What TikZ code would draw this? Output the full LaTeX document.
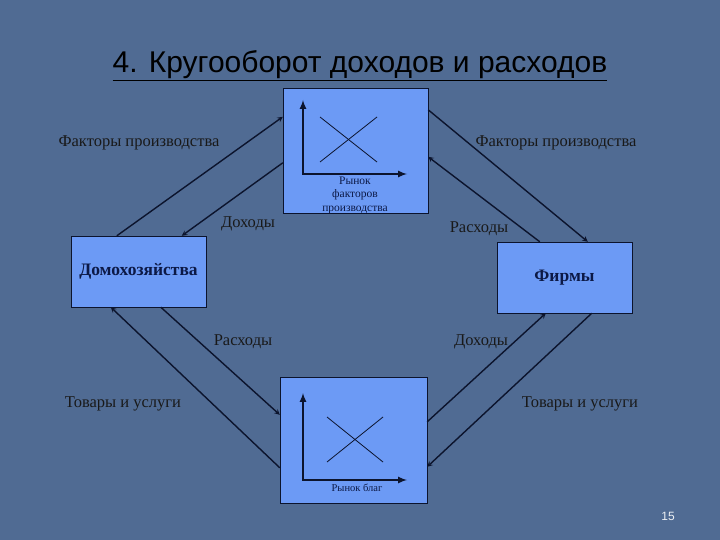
\documentclass[tikz,border=0pt]{standalone}
\usepackage{fontspec}
\setmainfont{Liberation Serif}
\newfontfamily\titlefont{Liberation Sans}
\usepackage{tikz}
\usetikzlibrary{arrows,positioning}
\usepackage{xcolor}
\definecolor{slidebg}{RGB}{80,107,147}
\definecolor{boxblue}{RGB}{108,154,245}
\definecolor{linenavy}{RGB}{12,20,45}
\definecolor{textnavy}{RGB}{12,25,70}
\tikzstyle{flow} = [line width=1.4pt,->,>=stealth,color=linenavy]
\tikzstyle{axis} = [line width=2pt,<->,>=latex,color=linenavy]
\tikzstyle{curve} = [line width=0.8pt,color=linenavy]
\tikzstyle{agent} = [rectangle, draw=linenavy, fill=boxblue, minimum width=135pt, minimum height=71pt, inner sep=0pt, font=\bfseries\fontsize{17.5}{20}\selectfont, text=textnavy]
\tikzstyle{market} = [rectangle, draw=linenavy, fill=boxblue, inner sep=0pt]
\tikzstyle{lbl} = [font=\fontsize{16.5}{19}\selectfont, text=black!90]

\begin{document}
\begin{tikzpicture}[x=1pt, y=-1pt]
    \fill[slidebg] (0,0) rectangle (720,540);
    \useasboundingbox (0,0) rectangle (720,540);

    % Title
    \node[anchor=base, font=\titlefont\fontsize{30}{34}\selectfont] (title) at (360,73) {\underline{4. Кругооборот доходов и расходов}};

    % Market for factors
    \node[market, minimum width=145pt, minimum height=125pt] (fmarket) at (355.5,150.5) {};
    \coordinate (fo) at (303,174);
    \coordinate (fy) at (303,100);
    \coordinate (fx) at (407,174);
    \draw[axis] (fy) -- (fo) -- (fx);
    \draw[curve] (320,117) -- (377,162);
    \draw[curve] (320,162) -- (377,117);
    \node[font=\fontsize{11.5}{13.5}\selectfont, align=center, text=textnavy] (flabel) at (355,195) {Рынок\\факторов\\производства};

    % Market for goods
    \node[market, minimum width=147pt, minimum height=126pt] (gmarket) at (353.5,440) {};
    \coordinate (go) at (303,480);
    \coordinate (gy) at (303,393);
    \coordinate (gx) at (407,480);
    \draw[axis] (gy) -- (go) -- (gx);
    \draw[curve] (327,417) -- (383,462);
    \draw[curve] (327,462) -- (383,417);
    \node[font=\fontsize{10.5}{12}\selectfont, text=textnavy] (glabel) at (357,488) {Рынок благ};

    % Households and firms
    \node[agent] (house) at (138.5,271.5) {Домохозяйства};
    \node[agent] (firm) at (564.5,277.5) {Фирмы};

    % Flows through the market for factors
    \draw[flow] ([xshift=46pt]house.north west) -- ([yshift=-29pt]fmarket.north west);
    \draw[flow] ([yshift=-75pt]fmarket.north west) -- ([xshift=111pt]house.north west);
    \draw[flow] ([yshift=-22pt]fmarket.north east) -- ([xshift=91pt]firm.north west);
    \draw[flow] ([xshift=43pt]firm.north west) -- ([yshift=-69pt]fmarket.north east);

    % Flows through the market for goods
    \draw[flow] ([xshift=90pt]house.south west) -- ([yshift=-38pt]gmarket.north west);
    \draw[flow] ([yshift=-91pt]gmarket.north west) -- ([xshift=40pt]house.south west);
    \draw[flow] ([yshift=-45pt]gmarket.north east) -- ([xshift=49pt]firm.south west);
    \draw[flow] ([xshift=95pt]firm.south west) -- ([yshift=-90pt]gmarket.north east);

    % Labels
    \node[lbl] (hfactors) at (139,143) {Факторы производства};
    \node[lbl] (ffactors) at (556,143) {Факторы производства};
    \node[lbl] (hincome) at (248,224) {Доходы};
    \node[lbl] (fcosts) at (479,229) {Расходы};
    \node[lbl] (hcosts) at (243,342) {Расходы};
    \node[lbl] (fincome) at (481,342) {Доходы};
    \node[lbl] (hgoods) at (123,404) {Товары и услуги};
    \node[lbl] (fgoods) at (580,404) {Товары и услуги};

    % Slide number
    \node[font=\titlefont\fontsize{12}{14}\selectfont, text=white!90!slidebg] (pagenum) at (668,516) {15};
\end{tikzpicture}
\end{document}
